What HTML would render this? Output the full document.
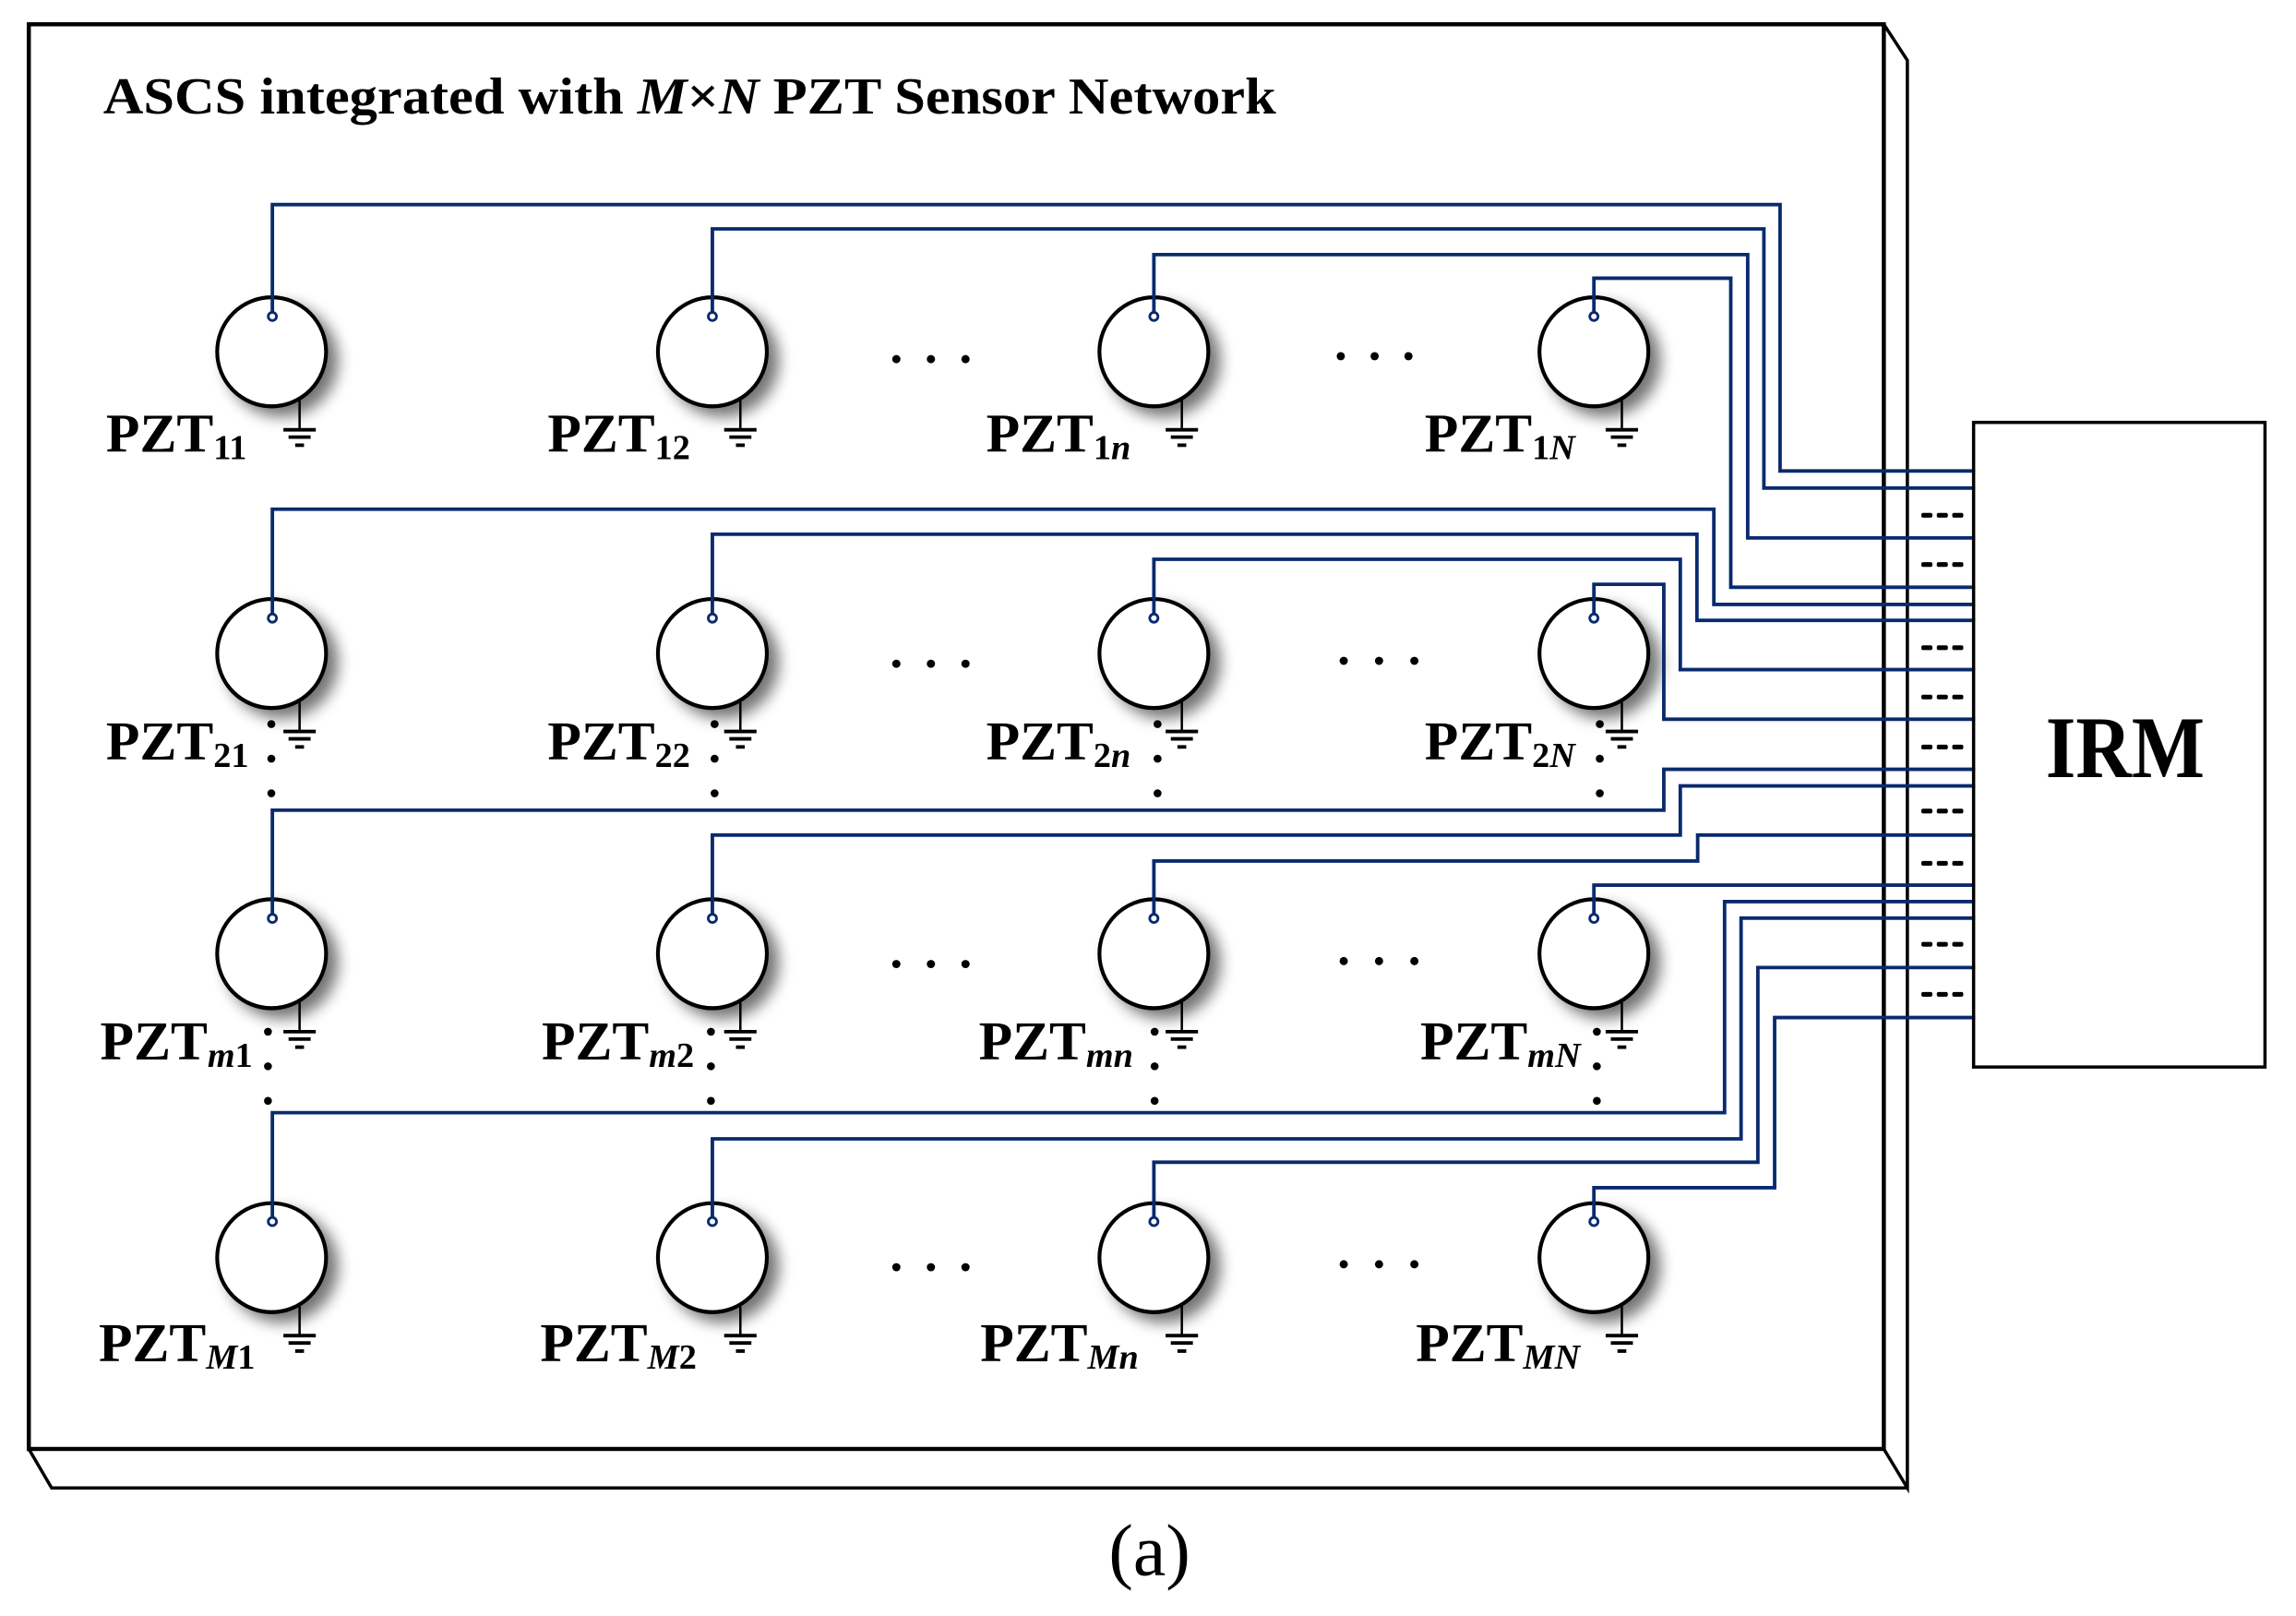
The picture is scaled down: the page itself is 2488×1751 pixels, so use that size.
<!DOCTYPE html>
<html><head><meta charset="utf-8"><style>
html,body{margin:0;padding:0;background:#fff;}
svg{display:block;}
text{font-family:"Liberation Serif",serif;}
</style></head><body>
<svg width="2488" height="1751" viewBox="0 0 1560 1098" xmlns="http://www.w3.org/2000/svg">
<defs>
<filter id="sh" x="-50%" y="-50%" width="200%" height="200%">
<feGaussianBlur in="SourceAlpha" stdDeviation="5"/>
<feOffset dx="7" dy="6" result="b"/>
<feComponentTransfer><feFuncA type="linear" slope="0.55"/></feComponentTransfer>
<feMerge><feMergeNode/><feMergeNode in="SourceGraphic"/></feMerge>
</filter>
<g id="pzt">
<ellipse cx="0" cy="0" rx="37" ry="37" fill="#fff" stroke="#000" stroke-width="2.6" filter="url(#sh)"/>
<path d="M-34,12 A37,37 0 0 0 34,12" fill="none" stroke="#000" stroke-width="2" transform="translate(0,3)"/>
<line x1="19" y1="33" x2="19" y2="53" stroke="#000" stroke-width="1.6"/>
<line x1="8" y1="53" x2="30" y2="53" stroke="#000" stroke-width="2.4"/>
<line x1="11.5" y1="58" x2="26.5" y2="58" stroke="#000" stroke-width="2.4"/>
<line x1="16" y1="63.5" x2="22" y2="63.5" stroke="#000" stroke-width="2.4"/>
</g>
<g id="pin"><circle cx="0" cy="0" r="2.8" fill="#fff" stroke="#0a2a6e" stroke-width="1.8"/></g>
<g id="vd"><circle cx="0" cy="48" r="2.7"/><circle cx="0" cy="71.5" r="2.7"/><circle cx="0" cy="95" r="2.7"/></g>
<g id="dash"><rect x="0" y="0" width="7.5" height="3.2" rx="1.2"/><rect x="10.5" y="0" width="7.5" height="3.2" rx="1.2"/><rect x="21" y="0" width="7.5" height="3.2" rx="1.2"/></g>
</defs>

<g fill="none" stroke="#000" stroke-linejoin="miter">
<rect x="19.5" y="16.5" width="1260.5" height="968" stroke-width="2.8"/>
<polyline points="1280,16.5 1296,41 1296,1011 1280,984.5" stroke-width="2.2"/>
<polyline points="19.5,984.5 35,1011 1296,1011" stroke-width="2.2"/>
</g>

<text x="70" y="77" font-size="35" font-weight="bold" textLength="797" lengthAdjust="spacingAndGlyphs">ASCS integrated with <tspan font-style="italic">M</tspan>×<tspan font-style="italic">N</tspan> PZT Sensor Network</text>

<!-- sensors -->
<g>
<use href="#pzt" x="184.5" y="239"/><use href="#pzt" x="484" y="239"/><use href="#pzt" x="784" y="239"/><use href="#pzt" x="1083" y="239"/>
<use href="#pzt" x="184.5" y="444"/><use href="#pzt" x="484" y="444"/><use href="#pzt" x="784" y="444"/><use href="#pzt" x="1083" y="444"/>
<use href="#pzt" x="184.5" y="648"/><use href="#pzt" x="484" y="648"/><use href="#pzt" x="784" y="648"/><use href="#pzt" x="1083" y="648"/>
<use href="#pzt" x="184.5" y="854.5"/><use href="#pzt" x="484" y="854.5"/><use href="#pzt" x="784" y="854.5"/><use href="#pzt" x="1083" y="854.5"/>
</g>

<!-- wires -->
<g fill="none" stroke="#0a2a6e" stroke-width="2.4">
<polyline points="185,215 185,139 1209.5,139 1209.5,320 1342,320"/>
<polyline points="484,215 484,155.5 1198.5,155.5 1198.5,331.6 1342,331.6"/>
<polyline points="784,215 784,173 1187.5,173 1187.5,365.5 1342,365.5"/>
<polyline points="1083,215 1083,189 1176,189 1176,399 1342,399"/>
<polyline points="185,420 185,346 1164.5,346 1164.5,410.7 1342,410.7"/>
<polyline points="484,420 484,363 1153,363 1153,421.5 1342,421.5"/>
<polyline points="784,420 784,380 1141.7,380 1141.7,455 1342,455"/>
<polyline points="1083,420 1083,397 1130.5,397 1130.5,488.7 1342,488.7"/>
<polyline points="185,624 185,550.5 1130.5,550.5 1130.5,522.7 1342,522.7"/>
<polyline points="484,624 484,567.4 1141.7,567.4 1141.7,534 1342,534"/>
<polyline points="784,624 784,585 1153.5,585 1153.5,567.4 1342,567.4"/>
<polyline points="1083,624 1083,601.4 1342,601.4"/>
<polyline points="185,830 185,756 1171.8,756 1171.8,612.6 1342,612.6"/>
<polyline points="484,830 484,773.8 1183,773.8 1183,623.8 1342,623.8"/>
<polyline points="784,830 784,789.7 1194.4,789.7 1194.4,657.4 1342,657.4"/>
<polyline points="1083,830 1083,807 1205.8,807 1205.8,691.4 1342,691.4"/>
</g>

<g>
<use href="#pin" x="185" y="215"/><use href="#pin" x="484" y="215"/><use href="#pin" x="784" y="215"/><use href="#pin" x="1083" y="215"/>
<use href="#pin" x="185" y="420"/><use href="#pin" x="484" y="420"/><use href="#pin" x="784" y="420"/><use href="#pin" x="1083" y="420"/>
<use href="#pin" x="185" y="624"/><use href="#pin" x="484" y="624"/><use href="#pin" x="784" y="624"/><use href="#pin" x="1083" y="624"/>
<use href="#pin" x="185" y="830"/><use href="#pin" x="484" y="830"/><use href="#pin" x="784" y="830"/><use href="#pin" x="1083" y="830"/>
</g>

<!-- IRM -->
<rect x="1341" y="287" width="198" height="438" fill="none" stroke="#000" stroke-width="2.2"/>
<text x="1444" y="528" font-size="60" font-weight="bold" text-anchor="middle" textLength="108" lengthAdjust="spacingAndGlyphs">IRM</text>
<g fill="#000">
<use href="#dash" x="1305.5" y="348.5"/>
<use href="#dash" x="1305.5" y="382"/>
<use href="#dash" x="1305.5" y="438.5"/>
<use href="#dash" x="1305.5" y="472"/>
<use href="#dash" x="1305.5" y="506"/>
<use href="#dash" x="1305.5" y="549.5"/>
<use href="#dash" x="1305.5" y="585"/>
<use href="#dash" x="1305.5" y="640"/>
<use href="#dash" x="1305.5" y="674"/>
</g>

<g fill="#000">
<use href="#vd" x="184.3" y="444"/><use href="#vd" x="485.5" y="444"/><use href="#vd" x="786.5" y="444"/><use href="#vd" x="1087" y="444"/>
<use href="#vd" x="182" y="653"/><use href="#vd" x="483" y="653"/><use href="#vd" x="784.5" y="653"/><use href="#vd" x="1085" y="653"/>
</g>
<g fill="#000">
<circle cx="609" cy="244" r="2.8"/><circle cx="632.5" cy="244" r="2.8"/><circle cx="656" cy="244" r="2.8"/>
<circle cx="911" cy="242" r="2.8"/><circle cx="934" cy="242" r="2.8"/><circle cx="957" cy="242" r="2.8"/>
<circle cx="609" cy="451" r="2.8"/><circle cx="632.5" cy="451" r="2.8"/><circle cx="656" cy="451" r="2.8"/>
<circle cx="913" cy="449" r="2.8"/><circle cx="937" cy="449" r="2.8"/><circle cx="961" cy="449" r="2.8"/>
<circle cx="609" cy="655" r="2.8"/><circle cx="632.5" cy="655" r="2.8"/><circle cx="656" cy="655" r="2.8"/>
<circle cx="913" cy="653" r="2.8"/><circle cx="937" cy="653" r="2.8"/><circle cx="961" cy="653" r="2.8"/>
<circle cx="609" cy="861" r="2.8"/><circle cx="632.5" cy="861" r="2.8"/><circle cx="656" cy="861" r="2.8"/>
<circle cx="913" cy="859" r="2.8"/><circle cx="937" cy="859" r="2.8"/><circle cx="961" cy="859" r="2.8"/>
</g>

<g font-size="37.5" font-weight="bold" fill="#000">
<text x="72" y="307">PZT<tspan font-size="24" dy="5">11</tspan></text>
<text x="372" y="307">PZT<tspan font-size="24" dy="5">12</tspan></text>
<text x="670" y="307">PZT<tspan font-size="24" dy="5">1<tspan font-style="italic">n</tspan></tspan></text>
<text x="968" y="307">PZT<tspan font-size="24" dy="5">1<tspan font-style="italic">N</tspan></tspan></text>

<text x="72" y="516">PZT<tspan font-size="24" dy="5">21</tspan></text>
<text x="372" y="516">PZT<tspan font-size="24" dy="5">22</tspan></text>
<text x="670" y="516">PZT<tspan font-size="24" dy="5">2<tspan font-style="italic">n</tspan></tspan></text>
<text x="968" y="516">PZT<tspan font-size="24" dy="5">2<tspan font-style="italic">N</tspan></tspan></text>

<text x="68" y="720">PZT<tspan font-size="24" dy="5"><tspan font-style="italic">m</tspan>1</tspan></text>
<text x="368" y="720">PZT<tspan font-size="24" dy="5"><tspan font-style="italic">m</tspan>2</tspan></text>
<text x="665" y="720">PZT<tspan font-size="24" dy="5" font-style="italic">mn</tspan></text>
<text x="965" y="720">PZT<tspan font-size="24" dy="5" font-style="italic">mN</tspan></text>

<text x="67" y="925">PZT<tspan font-size="24" dy="5"><tspan font-style="italic">M</tspan>1</tspan></text>
<text x="367" y="925">PZT<tspan font-size="24" dy="5"><tspan font-style="italic">M</tspan>2</tspan></text>
<text x="666" y="925">PZT<tspan font-size="24" dy="5" font-style="italic">Mn</tspan></text>
<text x="962" y="925">PZT<tspan font-size="24" dy="5" font-style="italic">MN</tspan></text>
</g>

<text x="781" y="1070" font-size="50" text-anchor="middle">(a)</text>
</svg>
</body></html>
